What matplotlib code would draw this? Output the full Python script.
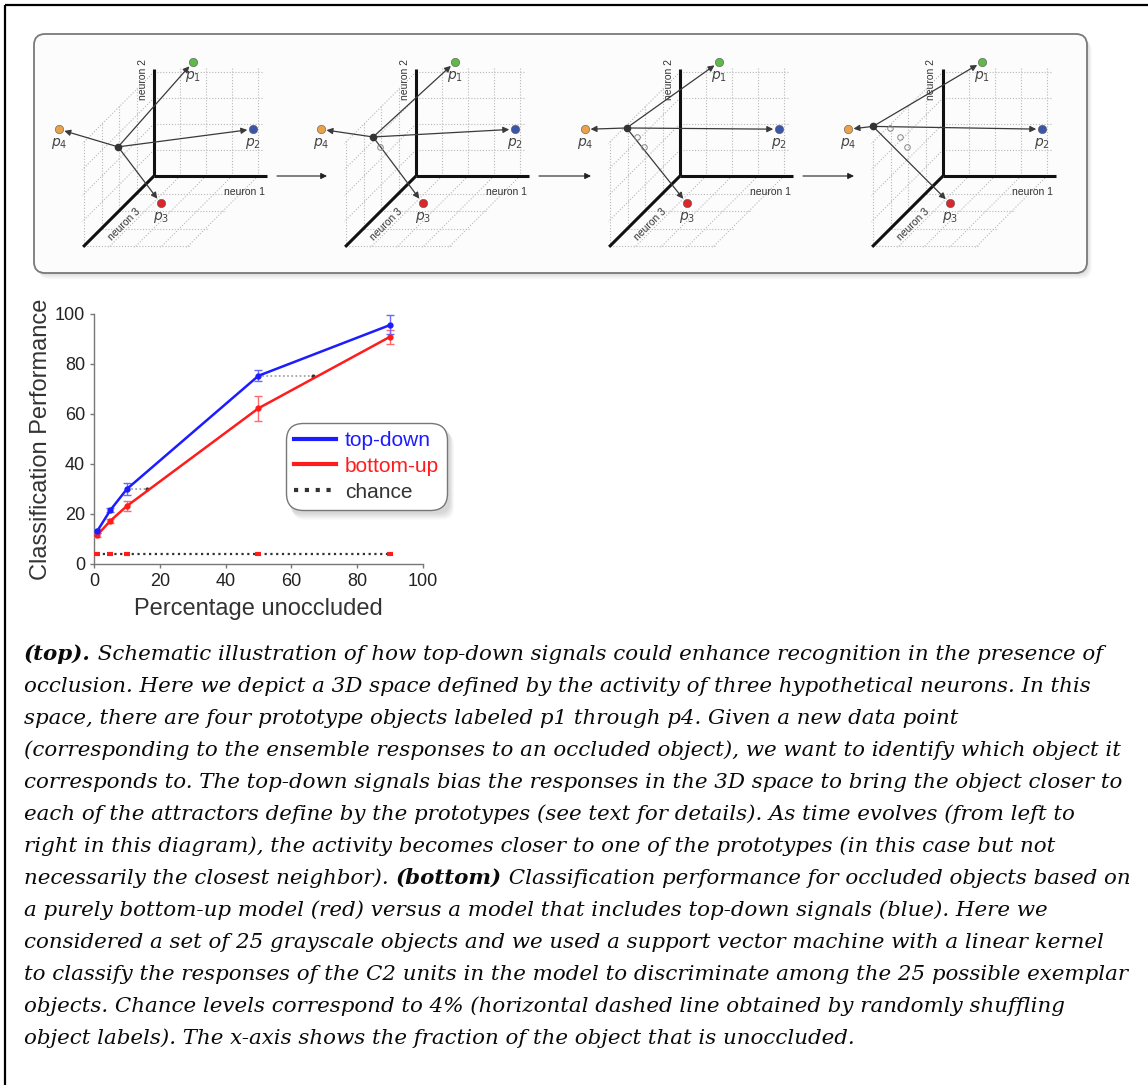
import matplotlib.pyplot as plt
from matplotlib.patches import FancyBboxPatch

plt.rcParams['font.family'] = ['Liberation Sans', 'DejaVu Sans']
plt.rcParams['mathtext.fontset'] = 'dejavusans'

# ---- chart data ----
pct = [1, 5, 10, 50, 90]
top_down = [13.2, 21.6, 30.0, 75.3, 95.6]
top_down_err = [0.8, 0.8, 2.5, 2.3, 3.8]
bottom_up = [11.6, 17.3, 23.2, 62.3, 90.9]
bottom_up_err = [0.8, 0.8, 2.0, 5.0, 2.8]
chance = [4, 4, 4, 4, 4]
# top-down level reached by bottom-up only with more of the object visible
equiv_y = [30.0, 75.3]
equiv_from = [10, 50]
equiv_to = [16, 66.5]
xticks = [0, 20, 40, 60, 80, 100]
yticks = [0, 20, 40, 60, 80, 100]

# ---- schematic data: (neuron 1, neuron 2, neuron 3) ----
proto_names = ['$p_1$', '$p_2$', '$p_3$', '$p_4$']
proto_pos = [(1.5, 4.38, 0.0), (3.8, 1.8, 0.0), (1.3, 0.0, 1.55), (0.0, 5.45, 5.43)]
proto_colors = ['#5fb848', '#3b56a8', '#d8282c', '#eaa24a']
trajectory = [(0.0, 2.5, 2.05), (0.0, 3.15, 2.45), (0.0, 3.9, 3.05), (0.0, 4.6, 4.0)]

caption = [
    [("(top).", True), (" Schematic illustration of how top-down signals could enhance recognition in the presence of", False)],
    [("occlusion. Here we depict a 3D space defined by the activity of three hypothetical neurons. In this", False)],
    [("space, there are four prototype objects labeled p1 through p4. Given a new data point", False)],
    [("(corresponding to the ensemble responses to an occluded object), we want to identify which object it", False)],
    [("corresponds to. The top-down signals bias the responses in the 3D space to bring the object closer to", False)],
    [("each of the attractors define by the prototypes (see text for details). As time evolves (from left to", False)],
    [("right in this diagram), the activity becomes closer to one of the prototypes (in this case but not", False)],
    [("necessarily the closest neighbor). ", False), ("(bottom)", True), (" Classification performance for occluded objects based on", False)],
    [("a purely bottom-up model (red) versus a model that includes top-down signals (blue). Here we", False)],
    [("considered a set of 25 grayscale objects and we used a support vector machine with a linear kernel", False)],
    [("to classify the responses of the C2 units in the model to discriminate among the 25 possible exemplar", False)],
    [("objects. Chance levels correspond to 4% (horizontal dashed line obtained by randomly shuffling", False)],
    [("object labels). The x-axis shows the fraction of the object that is unoccluded.", False)],
]

W, H = 1148, 1085
fig = plt.figure(figsize=(W / 100, H / 100), dpi=100)
fig.patch.set_facecolor('white')

# canvas in pixel units for the schematic and the caption
cv = fig.add_axes([0, 0, 1, 1])
cv.set_xlim(0, W)
cv.set_ylim(H, 0)
cv.axis('off')

# outer border (top and left only)
cv.plot([5, W], [5, 5], color='black', lw=1.6, solid_capstyle='butt')
cv.plot([5, 5], [5, H], color='black', lw=1.6, solid_capstyle='butt')

# panel box with soft shadow
for i in range(6, 0, -1):
    cv.add_patch(FancyBboxPatch((34 + i * 0.8, 34 + i * 1.0), 1053, 239,
                                boxstyle='round,pad=0,rounding_size=11',
                                fc='black', ec='none', alpha=0.025, zorder=0))
cv.add_patch(FancyBboxPatch((34, 34), 1053, 239, boxstyle='round,pad=0,rounding_size=11',
                            fc='#fcfcfc', ec='#7a7a7a', lw=1.3, zorder=1))


def proj(ox, oy, p):
    a, b, c = p
    return ox + 26 * a - 17.5 * c, oy - 26 * b + 17.5 * c


def seg(ox, oy, p0, p1, **kw):
    x0, y0 = proj(ox, oy, p0)
    x1, y1 = proj(ox, oy, p1)
    cv.plot([x0, x1], [y0, y1], **kw)


grid_kw = dict(color='#b8b8b8', lw=0.8, ls=(0, (1, 1.6)), zorder=2)
panel_x = [154, 416, 680, 943]
oy = 176

for step, ox in enumerate(panel_x):
    for k in range(1, 5):
        seg(ox, oy, (k, 0, 0), (k, 4.2, 0), **grid_kw)
        seg(ox, oy, (0, k, 0), (4.2, k, 0), **grid_kw)
        seg(ox, oy, (0, 0, k), (0, 4.1, k), **grid_kw)
        seg(ox, oy, (0, k, 0), (0, k, 4.1), **grid_kw)
        seg(ox, oy, (k, 0, 0), (k, 0, 4.1), **grid_kw)
        seg(ox, oy, (0, 0, k), (4.1, 0, k), **grid_kw)
    axis_kw = dict(color='#111', lw=2.2, zorder=3, solid_capstyle='butt')
    seg(ox, oy, (0, 0, 0), (4.35, 0, 0), **axis_kw)
    seg(ox, oy, (0, 0, 0), (0, 4.1, 0), **axis_kw)
    seg(ox, oy, (0, 0, 0), (0, 0, 4.05), **axis_kw)
    cv.text(ox + 90, oy + 16, 'neuron 1', fontsize=7.5, color='#333', ha='center', va='center', zorder=4)
    cv.text(ox - 11.5, oy - 97, 'neuron 2', fontsize=7.5, color='#333', ha='center', va='center',
            rotation=90, zorder=4)
    cv.text(ox - 30, oy + 48, 'neuron 3', fontsize=7.5, color='#333', ha='center', va='center',
            rotation=45, zorder=4)

    cur = proj(ox, oy, trajectory[step])
    for name, p, col in zip(proto_names, proto_pos, proto_colors):
        px, py = proj(ox, oy, p)
        cv.annotate('', xy=(px, py), xytext=cur,
                    arrowprops=dict(arrowstyle='-|>', color='#3a3a3a', lw=0.9,
                                    shrinkA=2, shrinkB=4, mutation_scale=9), zorder=5)
        cv.plot(px, py, 'o', ms=6, color=col, mec='#555', mew=0.4, zorder=6)
        cv.text(px, py + 14, name, fontsize=10, color='#444', ha='center', va='center', zorder=6)
    for prev in trajectory[:step]:
        qx, qy = proj(ox, oy, prev)
        cv.plot(qx, qy, 'o', ms=4, mfc='none', mec='#888', mew=0.7, zorder=5)
    cv.plot(cur[0], cur[1], 'o', ms=4.5, color='#333', zorder=7)

    if step < len(panel_x) - 1:
        cv.annotate('', xy=(panel_x[step + 1] - 89, oy), xytext=(ox + 123, oy),
                    arrowprops=dict(arrowstyle='-|>', color='#222', lw=0.8,
                                    shrinkA=0, shrinkB=0, mutation_scale=9), zorder=4)

# caption
renderer = fig.canvas.get_renderer()
cap_x, cap_y0, cap_dy = 24, 654, 32.0
for i, parts in enumerate(caption):
    x = cap_x
    for txt, bold in parts:
        t = cv.text(x, cap_y0 + i * cap_dy, txt, fontsize=15.4, family='DejaVu Serif',
                    style='italic', weight='bold' if bold else 'normal',
                    ha='left', va='center', color='#0a0a0a')
        x = t.get_window_extent(renderer).x1

# ---- chart ----
ax = fig.add_axes([94 / W, 1 - 564 / H, 329 / W, 250 / H])
ax.patch.set_alpha(0)
blue, red = '#1c1cff', '#ff1c1c'

chance_line, = ax.plot(pct, chance, color='#333', lw=1.6, ls=(0, (1, 1.6)), label='chance', zorder=2)
ax.plot(pct, chance, ls='none', marker='_', ms=4.5, mew=3, color=red, zorder=3)
for y, x0, x1 in zip(equiv_y, equiv_from, equiv_to):
    ax.plot([x0, x1], [y, y], color='#999', lw=1.2, ls=(0, (1, 1.5)), zorder=2)
    ax.plot([x1], [y], 'o', color='#333', ms=2, zorder=3)

ax.errorbar(pct, bottom_up, yerr=bottom_up_err, fmt='none', ecolor='#ff6a6a', elinewidth=1, capsize=3, zorder=3)
ax.errorbar(pct, top_down, yerr=top_down_err, fmt='none', ecolor='#6a6aff', elinewidth=1, capsize=3, zorder=4)
bu_line, = ax.plot(pct, bottom_up, color=red, lw=1.8, label='bottom-up', zorder=4)
td_line, = ax.plot(pct, top_down, color=blue, lw=1.8, label='top-down', zorder=5)
ax.plot(pct, bottom_up, 'o', ls='none', color=red, ms=3.5, zorder=4)
ax.plot(pct, top_down, 'o', ls='none', color=blue, ms=3.5, zorder=5)

ax.set_xlim(0, 100)
ax.set_ylim(0, 100)
ax.set_xticks(xticks)
ax.set_yticks(yticks)
for s in ['top', 'right']:
    ax.spines[s].set_visible(False)
for s in ['left', 'bottom']:
    ax.spines[s].set_color('#777')
    ax.spines[s].set_linewidth(1)
ax.tick_params(direction='out', length=3, width=1, color='#777', labelsize=13, labelcolor='#222')
ax.set_xlabel('Percentage unoccluded', fontsize=17, color='#333', va='top')
ax.set_ylabel('Classification Performance', fontsize=17, color='#333')
ax.xaxis.set_label_coords(0.5, -0.135)
ax.yaxis.set_label_coords(-0.128, 0.5)

leg = ax.legend(handles=[td_line, bu_line, chance_line], loc='upper left',
                bbox_to_anchor=(0.584, 0.564), borderaxespad=0, fontsize=15,
                handlelength=2.0, handletextpad=0.45, labelspacing=0.33, borderpad=0.38,
                labelcolor='linecolor', fancybox=True, framealpha=1, shadow=False,
                edgecolor='#777')
leg.get_frame().set_boxstyle('round', pad=0, rounding_size=0.8)
leg.get_frame().set_linewidth(1.0)
for h in leg.legend_handles:
    h.set_linewidth(3)

# soft shadow behind the legend, drawn on the canvas
lb = leg.get_window_extent(renderer)
for i in range(8, 0, -1):
    cv.add_patch(FancyBboxPatch((lb.x0 + 2 + i * 0.6, H - lb.y1 + 3 + i * 0.9), lb.width, lb.height,
                                boxstyle='round,pad=0,rounding_size=12',
                                fc='black', ec='none', alpha=0.018, zorder=0))

fig.savefig('out.png', dpi=100)
